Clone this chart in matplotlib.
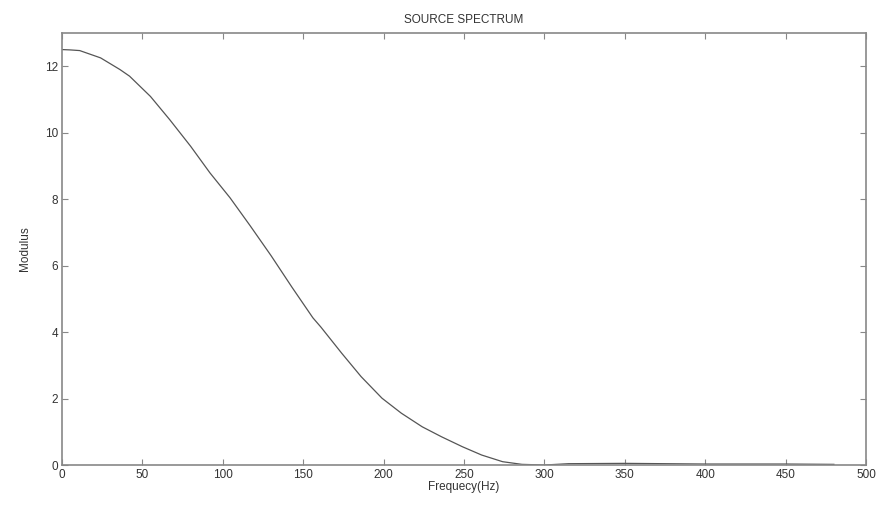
import numpy as np
import matplotlib.pyplot as plt

# spectrum samples: frequency (Hz) and modulus
freq = [0, 5, 11, 24, 36, 42, 55, 67, 80, 92, 104.5, 117, 130, 143, 156,
        161, 174, 186, 199, 211, 224, 236, 249, 261, 274, 286, 300, 315,
        350, 400, 450, 480]
modulus = [12.5, 12.49, 12.47, 12.25, 11.9, 11.7, 11.09, 10.39, 9.59, 8.79,
           8.04, 7.2, 6.3, 5.35, 4.43, 4.15, 3.36, 2.66, 2.01, 1.56, 1.15,
           0.85, 0.55, 0.30, 0.10, 0.02, 0.0, 0.04, 0.05, 0.03, 0.03, 0.02]

plt.rcParams['font.family'] = ['Liberation Sans', 'DejaVu Sans']

fig = plt.figure(figsize=(8.77, 5.07), dpi=100)
ax = fig.add_axes([0.0707, 0.0828, 0.9168, 0.8522])

ax.plot(freq, modulus, color='#555555', lw=0.9)

ax.set_xlim(0, 500)
ax.set_ylim(0, 13)
ax.set_xticks(np.arange(0, 501, 50))
ax.set_yticks(np.arange(0, 13, 2))

for s in ax.spines.values():
    s.set_color('#888888')
    s.set_linewidth(1.2)
ax.tick_params(direction='in', top=True, right=True, length=4,
               color='#888888', labelsize=8.5, labelcolor='#333333', pad=3)

ax.set_title('SOURCE SPECTRUM', fontsize=8.5, color='#333333', pad=7)
ax.set_xlabel('Frequecy(Hz)', fontsize=8.5, color='#333333', labelpad=0)
ax.set_ylabel('Modulus', fontsize=8.5, color='#333333', labelpad=10)

fig.savefig('out.png', dpi=100)
